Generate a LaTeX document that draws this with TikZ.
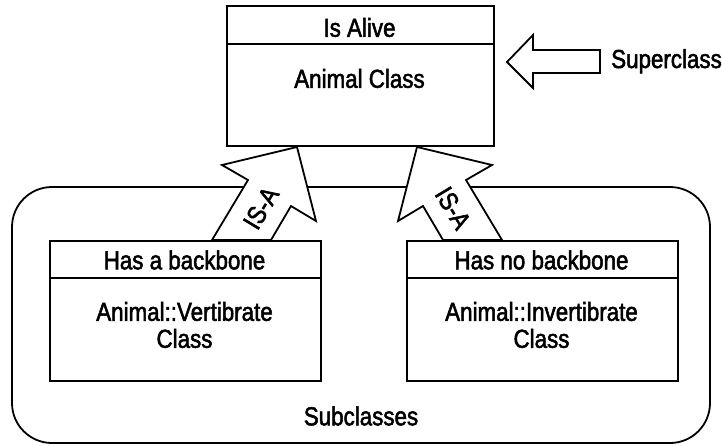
\documentclass[tikz,border=0pt]{standalone}
\usepackage{fontspec}
\setmainfont{Liberation Sans}[FakeStretch=0.86,FakeBold=2]
\begin{document}
\begin{tikzpicture}[x=1pt,y=-1pt,
  classbox/.style={draw, line width=1.8pt, fill=white, inner sep=0pt, anchor=north west},
  lbl/.style={font=\fontsize{26}{27}\selectfont, align=center, inner sep=0pt},
  blockarrow/.style={draw, fill=white, line width=1.8pt, line join=miter},
  divider/.style={line width=1.8pt}]
\useasboundingbox (0,0) rectangle (722,445);
% outer rounded group
\draw[line width=1.8pt, rounded corners=40pt] (12,187) rectangle (710,443);
\node[lbl] (sub) at (361,416) {Subclasses};
% IS-A block arrows
\draw[blockarrow] (212,240) -- (248,180) -- (222,165) -- (297,147) -- (316,221) -- (291,206) -- (271,240) -- cycle;
\draw[blockarrow] (502,240) -- (466,180) -- (492,165) -- (417,147) -- (398,221) -- (423,206) -- (443,240) -- cycle;
\node[lbl, rotate=59] (isa1) at (261,208) {IS-A};
\node[lbl, rotate=-59] (isa2) at (453,208) {IS-A};
% superclass box
\node[classbox, minimum width=267pt, minimum height=140pt] (super) at (226,5) {};
\draw[divider] ([yshift=-39pt]super.north west) -- ([yshift=-39pt]super.north east);
\node[lbl] (superTitle) at (359.5,27.5) {Is Alive};
\node[lbl] (superBody) at (359.5,78.5) {Animal Class};
% superclass pointer
\draw[blockarrow] (507,62) -- (533,35) -- (533,50) -- (600,50) -- (600,73) -- (533,73) -- (533,88) -- cycle;
\node[lbl, anchor=base west] (superLbl) at (611,68) {Superclass};
% subclass boxes
\node[classbox, minimum width=271pt, minimum height=140pt] (vert) at (49,240) {};
\draw[divider] ([yshift=-38pt]vert.north west) -- ([yshift=-38pt]vert.north east);
\node[lbl] (vertTitle) at (184.5,260) {Has a backbone};
\node[lbl] (vertBody) at (184.5,325) {Animal::Vertibrate\\Class};
\node[classbox, minimum width=271pt, minimum height=140pt] (invert) at (406,240) {};
\draw[divider] ([yshift=-38pt]invert.north west) -- ([yshift=-38pt]invert.north east);
\node[lbl] (invertTitle) at (541.5,260) {Has no backbone};
\node[lbl] (invertBody) at (541.5,325) {Animal::Invertibrate\\Class};
\end{tikzpicture}
\end{document}
